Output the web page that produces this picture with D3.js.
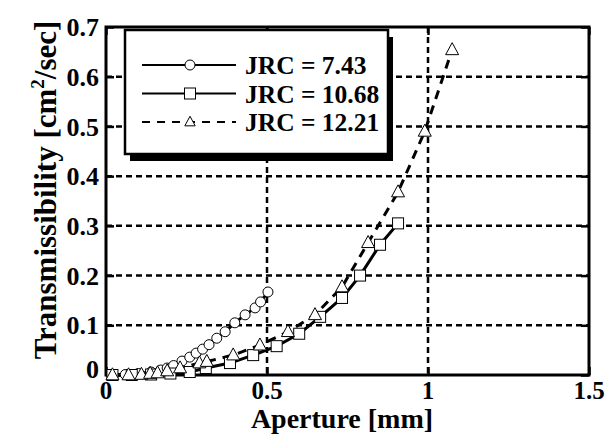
<!DOCTYPE html>
<html>
<head>
<meta charset="utf-8">
<script src="https://cdn.jsdelivr.net/npm/d3@7"></script>
<style>
  html, body { margin: 0; padding: 0; background: #fff; }
  svg { display: block; }
  text { font-family: "Liberation Serif", "Times New Roman", serif; font-weight: bold; fill: #000; }
</style>
</head>
<body>
<svg id="chart" width="614" height="436"></svg>
<script>
// Aperture [mm] vs transmissibility [cm^2/sec] for three joint roughness coefficients
const jrc743X  = [0.02, 0.06, 0.10, 0.14, 0.17, 0.19, 0.21, 0.236, 0.26, 0.28, 0.30, 0.32, 0.344, 0.37, 0.40, 0.432, 0.463, 0.48, 0.503];
const jrc743Y  = [0.000, 0.001, 0.003, 0.006, 0.010, 0.014, 0.019, 0.028, 0.036, 0.044, 0.052, 0.061, 0.074, 0.087, 0.105, 0.121, 0.135, 0.147, 0.167];

const jrc1068X = [0.02, 0.08, 0.14, 0.20, 0.26, 0.31, 0.385, 0.457, 0.53, 0.60, 0.665, 0.733, 0.789, 0.851, 0.907];
const jrc1068Y = [0.000, 0.000, 0.001, 0.003, 0.006, 0.014, 0.024, 0.040, 0.058, 0.083, 0.117, 0.155, 0.200, 0.262, 0.305];

const jrc1221X = [0.02, 0.07, 0.11, 0.137, 0.16, 0.19, 0.23, 0.29, 0.313, 0.395, 0.478, 0.565, 0.649, 0.733, 0.814, 0.907, 0.99, 1.075];
const jrc1221Y = [0.000, 0.000, 0.001, 0.003, 0.004, 0.008, 0.014, 0.024, 0.027, 0.040, 0.060, 0.087, 0.121, 0.177, 0.266, 0.368, 0.490, 0.654];

const seriesNames = ["JRC = 7.43", "JRC = 10.68", "JRC = 12.21"];
const xTicks = [0, 0.5, 1, 1.5];
const xTickLabels = ["0", "0.5", "1", "1.5"];
const yTicks = [0, 0.1, 0.2, 0.3, 0.4, 0.5, 0.6, 0.7];
const yTickLabels = ["0", "0.1", "0.2", "0.3", "0.4", "0.5", "0.6", "0.7"];

const series = [
  { name: seriesNames[0], xs: jrc743X,  ys: jrc743Y,  marker: "circle",   dash: null },
  { name: seriesNames[1], xs: jrc1068X, ys: jrc1068Y, marker: "square",   dash: null },
  { name: seriesNames[2], xs: jrc1221X, ys: jrc1221Y, marker: "triangle", dash: "9,7" }
];

const svg = d3.select("#chart");
const plot = { left: 106, right: 589, top: 27, bottom: 375 };

const x = d3.scaleLinear().domain([0, 1.5]).range([plot.left, plot.right]);
const y = d3.scaleLinear().domain([0, 0.7]).range([plot.bottom, plot.top]);

// dashed grid
const grid = svg.append("g").attr("stroke", "#000").attr("stroke-width", 2.5).attr("stroke-dasharray", "6,4");
grid.selectAll("line.h").data(yTicks.slice(1, -1)).join("line")
  .attr("x1", plot.left).attr("x2", plot.right)
  .attr("y1", d => y(d)).attr("y2", d => y(d));
grid.selectAll("line.v").data(xTicks.slice(1, -1)).join("line")
  .attr("y1", plot.top).attr("y2", plot.bottom)
  .attr("x1", d => x(d)).attr("x2", d => x(d));

// axes with inward ticks
const tickLen = 8;
const axL = svg.append("g").attr("transform", `translate(${plot.left},0)`)
  .call(d3.axisLeft(y).tickValues(yTicks).tickSize(-tickLen).tickFormat(""));
const axR = svg.append("g").attr("transform", `translate(${plot.right},0)`)
  .call(d3.axisRight(y).tickValues(yTicks).tickSize(-tickLen).tickFormat(""));
const axB = svg.append("g").attr("transform", `translate(0,${plot.bottom})`)
  .call(d3.axisBottom(x).tickValues(xTicks).tickSize(-tickLen).tickFormat(""));
const axT = svg.append("g").attr("transform", `translate(0,${plot.top})`)
  .call(d3.axisTop(x).tickValues(xTicks).tickSize(-tickLen).tickFormat(""));
[axL, axR, axB, axT].forEach(a => {
  a.select(".domain").remove();
  a.selectAll(".tick line").attr("stroke", "#000").attr("stroke-width", 2.5);
});

// frame
svg.append("rect")
  .attr("x", plot.left).attr("y", plot.top)
  .attr("width", plot.right - plot.left).attr("height", plot.bottom - plot.top)
  .attr("fill", "none").attr("stroke", "#000").attr("stroke-width", 3);

// tick labels
svg.append("g").selectAll("text").data(yTicks).join("text")
  .attr("x", plot.left - 7)
  .attr("y", (d, i) => y(d) + (i === 0 ? -6 : 0))
  .attr("dy", "0.35em")
  .attr("text-anchor", "end")
  .attr("font-size", 26)
  .text((d, i) => yTickLabels[i]);

svg.append("g").selectAll("text").data(xTicks).join("text")
  .attr("x", d => x(d))
  .attr("y", 399)
  .attr("text-anchor", "middle")
  .attr("font-size", 25)
  .text((d, i) => xTickLabels[i]);

// axis titles
svg.append("text")
  .attr("x", 342).attr("y", 428)
  .attr("text-anchor", "middle")
  .attr("font-size", 28)
  .text("Aperture [mm]");

const yTitle = svg.append("text")
  .attr("transform", "translate(56,190) rotate(-90)")
  .attr("text-anchor", "middle")
  .attr("font-size", 31);
yTitle.append("tspan").text("Transmissibility [cm");
yTitle.append("tspan").attr("font-size", 19).attr("dy", -12).text("2");
yTitle.append("tspan").attr("dy", 12).text("/sec]");

// series lines
const line = d3.line().x(d => x(d[0])).y(d => y(d[1]));
const plotG = svg.append("g");
series.forEach(s => {
  const pts = s.xs.map((v, i) => [v, s.ys[i]]);
  plotG.append("path")
    .attr("d", line(pts))
    .attr("fill", "none")
    .attr("stroke", "#000")
    .attr("stroke-width", 3)
    .attr("stroke-dasharray", s.dash);
});

function drawMarker(g, type, cx, cy, scale) {
  const k = scale || 1;
  if (type === "circle") {
    g.append("circle").attr("cx", cx).attr("cy", cy).attr("r", 5 * k);
  } else if (type === "square") {
    g.append("rect").attr("x", cx - 5.5 * k).attr("y", cy - 5.5 * k)
      .attr("width", 11 * k).attr("height", 11 * k);
  } else {
    const h = 12 * k, w = 6.5 * k;
    g.append("path").attr("d", `M${cx},${cy - h * 0.6}L${cx + w},${cy + h * 0.4}L${cx - w},${cy + h * 0.4}Z`);
  }
}

// markers
series.forEach(s => {
  const g = plotG.append("g").attr("fill", "#fff").attr("stroke", "#000").attr("stroke-width", 1);
  s.xs.forEach((v, i) => drawMarker(g, s.marker, x(v), y(s.ys[i])));
});

// legend with drop shadow
const lg = svg.append("g");
const box = { x: 125, y: 30, w: 263, h: 124 };
lg.append("rect").attr("x", box.x + 5).attr("y", box.y + 7).attr("width", box.w).attr("height", box.h).attr("fill", "#000");
lg.append("rect").attr("x", box.x).attr("y", box.y).attr("width", box.w).attr("height", box.h)
  .attr("fill", "#fff").attr("stroke", "#000").attr("stroke-width", 2.5);

series.forEach((s, i) => {
  const cy = 65 + i * 28.5;
  lg.append("line").attr("x1", 142).attr("x2", 236).attr("y1", cy).attr("y2", cy)
    .attr("stroke", "#000").attr("stroke-width", 1.8)
    .attr("stroke-dasharray", s.dash ? "8,7" : null);
  const mg = lg.append("g").attr("fill", "#fff").attr("stroke", "#000").attr("stroke-width", 1);
  drawMarker(mg, s.marker, 190, cy, s.marker === "triangle" ? 0.8 : 1);
  lg.append("text").attr("x", 245).attr("y", cy + 9).attr("font-size", 25.5).text(s.name);
});
</script>
</body>
</html>
